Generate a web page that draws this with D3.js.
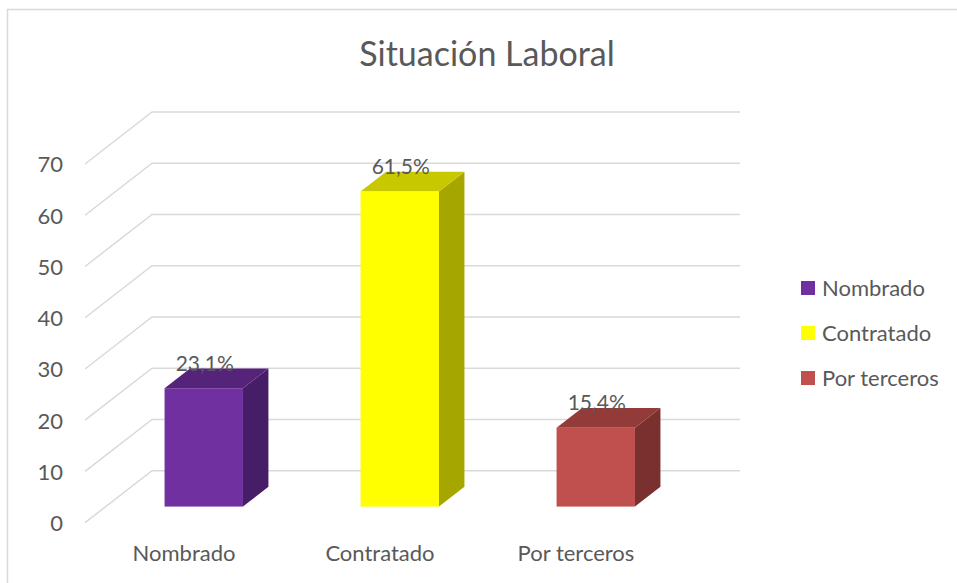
<!DOCTYPE html>
<meta charset="utf-8">

<!-- Load d3.js -->
<script src="https://d3js.org/d3.v7.min.js"></script>

<style>
    body { margin: 0; background: #fff; }
    text { font-family: Lato, "Open Sans", sans-serif; fill: #595959; }
</style>

<!-- Create a div where the graph will take place -->
<div id="my_dataviz"></div>

<script>

    // data
    var categories = ["Nombrado", "Contratado", "Por terceros"];
    var values = [23.1, 61.5, 15.4];
    var valueLabels = ["23,1%", "61,5%", "15,4%"];
    var yTicks = [0, 10, 20, 30, 40, 50, 60, 70];

    // colours: front, top, side
    var fronts = ["#7030A0", "#FFFF00", "#C0504D"];
    var tops = ["#55247A", "#C8C800", "#933B39"];
    var sides = ["#461E68", "#A6A600", "#7A302E"];

    var W = 957, H = 583;

    var svg = d3.select("#my_dataviz")
        .append("svg")
        .attr("width", W)
        .attr("height", H);

    // chart border
    svg.append("rect")
        .attr("x", 7.5).attr("y", 9.5)
        .attr("width", 1000).attr("height", 1000)
        .attr("fill", "none")
        .attr("stroke", "#D9D9D9")
        .attr("stroke-width", 1.5);

    // title
    svg.append("text")
        .attr("x", 487).attr("y", 66)
        .attr("text-anchor", "middle")
        .style("font-size", "34px")
        .text("Situación Laboral");

    // 3D depth vector (front plane -> back wall)
    var depthX = 67, depthY = -52;
    var t0 = 0.31, t1 = 0.69; // bar depth range

    // scales in the front plane
    var x = d3.scaleBand()
        .domain(categories)
        .range([85, 673])
        .paddingInner(0.6)
        .paddingOuter(0.3);

    var y = d3.scaleLinear()
        .domain([0, 70])
        .range([522.7, 164]);

    // gridlines: diagonal on the side wall + horizontal on the back wall
    var grid = svg.append("g");
    yTicks.forEach(function (v) {
        grid.append("path")
            .attr("d", "M85," + y(v) + "L" + (85 + depthX) + "," + (y(v) + depthY) +
                "L740," + (y(v) + depthY))
            .attr("fill", "none")
            .attr("stroke", "#D9D9D9")
            .attr("stroke-width", 1.5);
    });

    // y axis labels
    svg.append("g").selectAll("text")
        .data(yTicks)
        .enter()
        .append("text")
        .attr("x", 63)
        .attr("y", function (d) { return y(d); })
        .attr("dy", "0.38em")
        .attr("text-anchor", "end")
        .style("font-size", "22px")
        .text(function (d) { return d; });

    // bars
    var bars = svg.append("g").selectAll("g")
        .data(values)
        .enter()
        .append("g");

    function pts(arr) { return arr.map(function (p) { return p.join(","); }).join(" "); }

    bars.each(function (v, i) {
        var g = d3.select(this);
        var x0 = x(categories[i]) + depthX * t0;
        var x1 = x0 + x.bandwidth();
        var yb = y(0) + depthY * t0;
        var yt = y(v) + depthY * t0;
        var ox = depthX * (t1 - t0), oy = depthY * (t1 - t0);

        // side face
        g.append("polygon")
            .attr("points", pts([[x1, yt], [x1 + ox, yt + oy], [x1 + ox, yb + oy], [x1, yb]]))
            .attr("fill", sides[i]);
        // top face
        g.append("polygon")
            .attr("points", pts([[x0, yt], [x0 + ox, yt + oy], [x1 + ox, yt + oy], [x1, yt]]))
            .attr("fill", tops[i]);
        // front face
        g.append("rect")
            .attr("x", x0).attr("y", yt)
            .attr("width", x.bandwidth())
            .attr("height", yb - yt)
            .attr("fill", fronts[i]);
        // data label
        g.append("text")
            .attr("x", (x0 + x1) / 2 + 1)
            .attr("y", yt - 17.5)
            .attr("text-anchor", "middle")
            .style("font-size", "21px")
            .text(valueLabels[i]);
    });

    // x axis labels
    svg.append("g").selectAll("text")
        .data(categories)
        .enter()
        .append("text")
        .attr("x", function (d) { return x(d) + x.bandwidth() / 2 + 1; })
        .attr("y", 561)
        .attr("text-anchor", "middle")
        .style("font-size", "22px")
        .text(function (d) { return d; });

    // legend
    var legend = svg.append("g").selectAll("g")
        .data(categories)
        .enter()
        .append("g")
        .attr("transform", function (d, i) { return "translate(801," + (288 + i * 45) + ")"; });

    legend.append("rect")
        .attr("x", 0).attr("y", -7)
        .attr("width", 14).attr("height", 14)
        .attr("fill", function (d, i) { return fronts[i]; });

    legend.append("text")
        .attr("x", 21)
        .attr("y", 0)
        .attr("dy", "0.36em")
        .style("font-size", "22px")
        .text(function (d) { return d; });

</script>
